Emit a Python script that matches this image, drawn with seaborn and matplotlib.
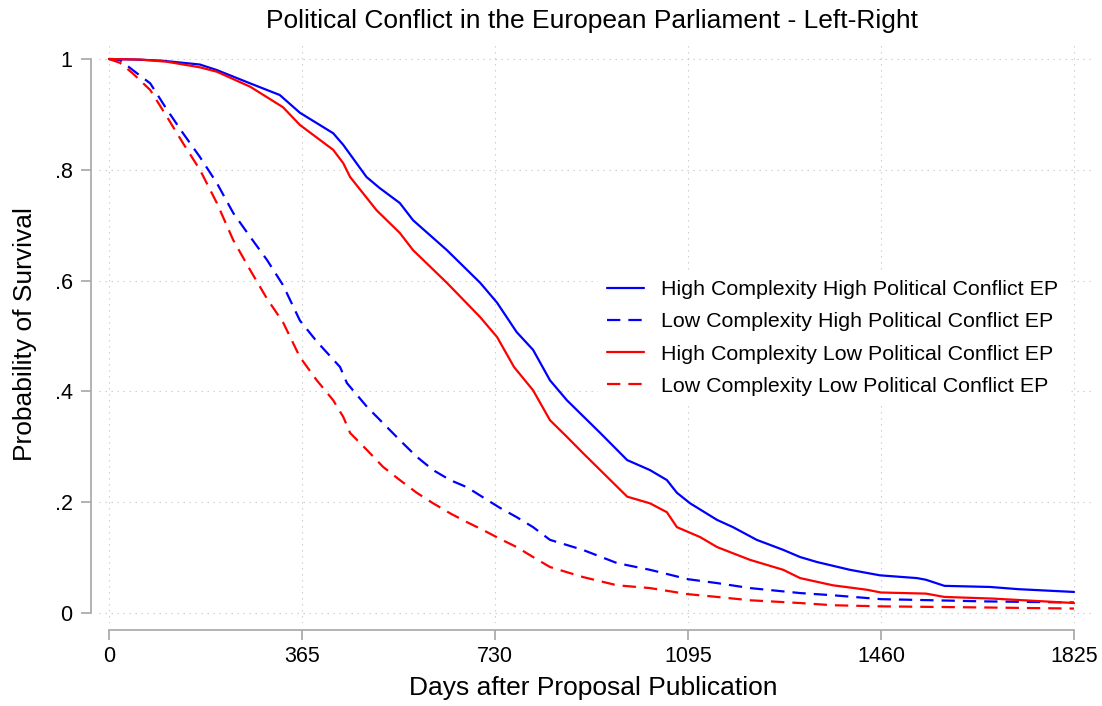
import matplotlib
matplotlib.use("Agg")
import matplotlib.pyplot as plt
import seaborn as sns
import pandas as pd

# Kaplan-Meier survival estimates by group (days after proposal publication)
days_hc_hp = [0, 50, 100, 172, 204, 267, 323, 361, 424, 443, 487, 512, 550, 575, 639,
              702, 734, 771, 802, 834, 866, 929, 980, 1023, 1055, 1074, 1099, 1150,
              1180, 1225, 1275, 1307, 1339, 1401, 1458, 1528, 1545, 1580, 1666, 1720, 1825]
surv_hc_hp = [1.0, 0.999, 0.997, 0.99, 0.98, 0.956, 0.935, 0.903, 0.866, 0.845, 0.787,
              0.767, 0.74, 0.709, 0.655, 0.596, 0.56, 0.507, 0.475, 0.42, 0.384, 0.325,
              0.276, 0.258, 0.24, 0.217, 0.198, 0.168, 0.155, 0.132, 0.114, 0.101,
              0.092, 0.078, 0.068, 0.063, 0.06, 0.049, 0.047, 0.043, 0.038]

days_lc_hp = [0, 21, 45, 78, 110, 140, 172, 204, 235, 267, 299, 329, 361, 393, 437, 450,
              488, 518, 550, 582, 613, 645, 677, 707, 739, 771, 802, 834, 896, 961,
              1023, 1095, 1150, 1212, 1307, 1369, 1460, 1558, 1653, 1825]
surv_lc_hp = [1.0, 0.998, 0.98, 0.956, 0.908, 0.866, 0.823, 0.776, 0.722, 0.679, 0.637,
              0.592, 0.528, 0.49, 0.444, 0.415, 0.372, 0.343, 0.312, 0.282, 0.258,
              0.24, 0.227, 0.209, 0.19, 0.173, 0.155, 0.132, 0.114, 0.09, 0.078, 0.061,
              0.054, 0.045, 0.036, 0.032, 0.025, 0.023, 0.021, 0.019]

days_hc_lp = [0, 60, 110, 172, 204, 267, 329, 361, 424, 443, 456, 506, 550, 575, 639,
              702, 734, 766, 802, 834, 866, 896, 929, 980, 1023, 1055, 1074, 1118,
              1150, 1212, 1275, 1307, 1369, 1433, 1460, 1545, 1580, 1672, 1825]
surv_hc_lp = [1.0, 0.999, 0.995, 0.985, 0.977, 0.95, 0.913, 0.881, 0.836, 0.812, 0.787,
              0.727, 0.686, 0.655, 0.596, 0.534, 0.498, 0.444, 0.402, 0.348, 0.318,
              0.289, 0.258, 0.21, 0.198, 0.182, 0.155, 0.137, 0.119, 0.096, 0.078,
              0.063, 0.05, 0.042, 0.037, 0.035, 0.029, 0.026, 0.018]

days_lc_lp = [0, 21, 45, 78, 110, 140, 172, 204, 235, 267, 299, 329, 361, 393, 424, 443,
              456, 488, 518, 550, 582, 613, 645, 677, 707, 739, 771, 802, 834, 896,
              961, 1023, 1095, 1150, 1212, 1307, 1369, 1460, 1653, 1825]
surv_lc_lp = [1.0, 0.993, 0.974, 0.944, 0.895, 0.848, 0.8, 0.74, 0.673, 0.619, 0.567,
              0.525, 0.462, 0.42, 0.384, 0.354, 0.325, 0.294, 0.264, 0.24, 0.217, 0.198,
              0.18, 0.164, 0.15, 0.134, 0.119, 0.101, 0.083, 0.065, 0.05, 0.045, 0.034,
              0.029, 0.023, 0.018, 0.014, 0.012, 0.01, 0.008]

labels = ["High Complexity High Political Conflict EP",
          "Low Complexity High Political Conflict EP",
          "High Complexity Low Political Conflict EP",
          "Low Complexity Low Political Conflict EP"]
colors = ["#0000ff", "#0000ff", "#ff0000", "#ff0000"]
dashed = [False, True, False, True]

x_ticks = [0, 365, 730, 1095, 1460, 1825]
y_ticks = [0, 0.2, 0.4, 0.6, 0.8, 1.0]
y_ticklabels = ["0", ".2", ".4", ".6", ".8", "1"]

title = "Political Conflict in the European Parliament - Left-Right"
x_title = "Days after Proposal Publication"
y_title = "Probability of Survival"

sns.set_theme(style="white")
plt.rcParams["font.family"] = ["Liberation Sans", "DejaVu Sans"]
plt.rcParams["text.color"] = "black"
plt.rcParams["axes.labelcolor"] = "black"

W, H = 1102, 706
fig = plt.figure(figsize=(W / 100, H / 100), dpi=100)
left_px, right_px, top_px, bottom_px = 99, 1095, 45, 623
ax = fig.add_axes([left_px / W, 1 - bottom_px / H,
                   (right_px - left_px) / W, (bottom_px - top_px) / H])

series = [(days_hc_hp, surv_hc_hp), (days_lc_hp, surv_lc_hp),
          (days_hc_lp, surv_hc_lp), (days_lc_lp, surv_lc_lp)]

handles = []
for (d, s), lab, col, dsh in zip(series, labels, colors, dashed):
    df = pd.DataFrame({"days": d, "surv": s})
    n_before = len(ax.lines)
    sns.lineplot(data=df, x="days", y="surv", ax=ax, color=col, linewidth=1.6,
                 sort=False, estimator=None, label=lab)
    line = ax.lines[n_before]
    if dsh:
        line.set_dashes((6, 3.6))
    handles.append(line)

# data range mapped onto pixel layout: 0 -> x=109, 1825 -> x=1074; 1 -> y=59, 0 -> y=613
px_per_day = (1074 - 109) / 1825
px_per_unit = 613 - 59
ax.set_xlim((left_px - 109) / px_per_day, (right_px - 109) / px_per_day)
ax.set_ylim((613 - bottom_px) / px_per_unit, (613 - top_px) / px_per_unit)

ax.set_xticks(x_ticks)
ax.set_xticklabels([str(t) for t in x_ticks])
ax.set_yticks(y_ticks)
ax.set_yticklabels(y_ticklabels)

ax.grid(True, color="#c8c8c8", linewidth=0.8, linestyle=(0, (1.2, 4.2)))
ax.set_axisbelow(True)

spine_col = "#a6a6a6"
for side in ["top", "right"]:
    ax.spines[side].set_visible(False)
ax.spines["left"].set_position(("outward", 5.8))
ax.spines["bottom"].set_position(("outward", 5.0))
ax.spines["left"].set_bounds(0, 1)
ax.spines["bottom"].set_bounds(0, 1825)
for side in ["left", "bottom"]:
    ax.spines[side].set_color(spine_col)
    ax.spines[side].set_linewidth(1.2)

ax.tick_params(axis="both", which="major", direction="out", length=7.2, width=1.2,
               color=spine_col, labelsize=15.5, labelcolor="black")
ax.tick_params(axis="y", pad=6)
ax.tick_params(axis="x", pad=4)
ax.tick_params(bottom=True, left=True)

ax.set_xlabel(x_title, fontsize=19, color="black")
ax.set_ylabel(y_title, fontsize=19, color="black")
ax.xaxis.set_label_coords((593 - left_px) / (right_px - left_px),
                          (bottom_px - 676) / (bottom_px - top_px))
ax.yaxis.set_label_coords((37 - left_px) / (right_px - left_px), 0.5)

fig.text(592 / W, 1 - 21 / H, title, ha="center", va="center", fontsize=19,
         color="black")

leg = ax.legend(handles=handles, labels=labels, loc="center left",
                bbox_to_anchor=(598 / W, 1 - 338 / H), bbox_transform=fig.transFigure,
                frameon=True, facecolor="white", edgecolor="none", framealpha=1.0,
                fontsize=15.4, handlelength=1.75, handletextpad=0.8,
                labelspacing=0.62, borderaxespad=0.0, borderpad=0.4)
for t in leg.get_texts():
    t.set_color("black")

fig.savefig("out.png", dpi=100, facecolor="white")
